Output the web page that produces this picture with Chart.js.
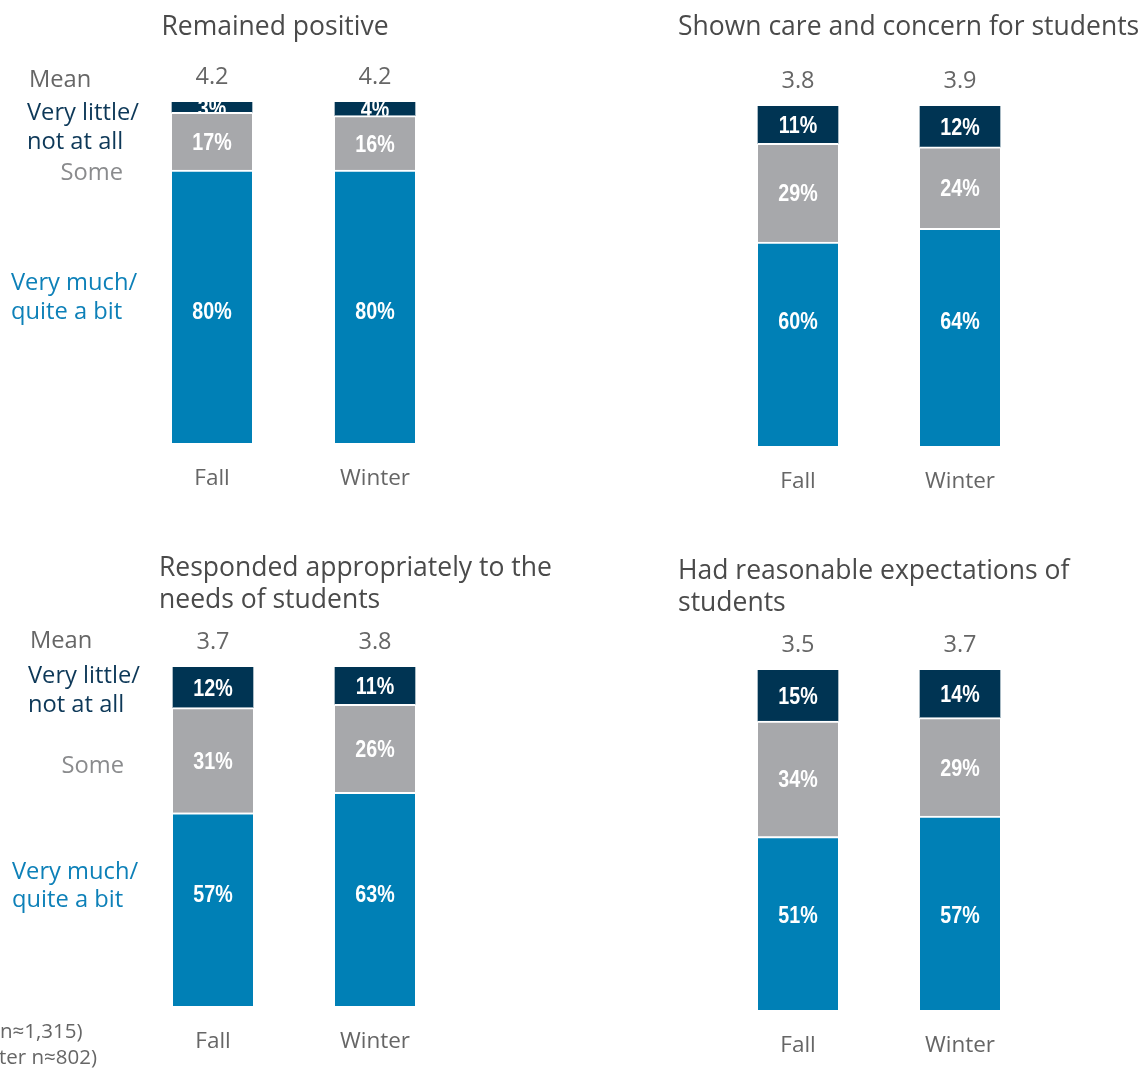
<!DOCTYPE html>
<html>
<head>
<meta charset="utf-8">
<script src="https://cdn.jsdelivr.net/npm/chart.js@4.4.1/dist/chart.umd.min.js"></script>
<style>
    body { margin: 0; width: 1143px; height: 1069px; position: relative; overflow: hidden; background: #fff; font-family: "Open Sans", sans-serif; }
    canvas { position: absolute; }
    .t { position: absolute; white-space: nowrap; line-height: 1.36; transform: translateY(-50%); }
    .title { font-size: 26.5px; color: #4a4a4a; }
    .side { font-size: 23.7px; }
</style>
</head>
<body>
<canvas id="positive_chart" width="571" height="500" style="left:0;top:0"></canvas>
<canvas id="care_chart" width="572" height="500" style="left:571px;top:0"></canvas>
<canvas id="responded_chart" width="571" height="539" style="left:0;top:530px"></canvas>
<canvas id="expectations_chart" width="572" height="539" style="left:571px;top:530px"></canvas>

<div class="t title" style="left:275px;top:25px;transform:translate(-50%,-50%)">Remained positive</div>
<div class="t title" style="left:678px;top:25px">Shown care and concern for students</div>
<div class="t title" style="left:159px;top:566px">Responded appropriately to the</div>
<div class="t title" style="left:159px;top:598px">needs of students</div>
<div class="t title" style="left:678px;top:569px">Had reasonable expectations of</div>
<div class="t title" style="left:678px;top:601px">students</div>

<div class="t side" style="left:29px;top:78px;color:#666">Mean</div>
<div class="t side" style="left:27px;top:111px;color:#0d3858">Very little/</div>
<div class="t side" style="left:27px;top:140px;color:#0d3858">not at all</div>
<div class="t side" style="right:1020px;top:171px;color:#8a8b8d">Some</div>
<div class="t side" style="left:11px;top:281px;color:#0d80b8">Very much/</div>
<div class="t side" style="left:11px;top:310px;color:#0d80b8">quite a bit</div>

<div class="t side" style="left:30px;top:639px;color:#666">Mean</div>
<div class="t side" style="left:28px;top:674px;color:#0d3858">Very little/</div>
<div class="t side" style="left:28px;top:703px;color:#0d3858">not at all</div>
<div class="t side" style="right:1019px;top:764px;color:#8a8b8d">Some</div>
<div class="t side" style="left:12px;top:870px;color:#0d80b8">Very much/</div>
<div class="t side" style="left:12px;top:898px;color:#0d80b8">quite a bit</div>

<div class="t" style="left:0;top:1031px;font-size:20.5px;color:#666">n≈1,315)</div>
<div class="t" style="left:-1px;top:1057px;font-size:20.5px;color:#666">ter n≈802)</div>

<script>
'use strict';

const categories = ['Fall', 'Winter'];

const positive_low = [3, 4];
const positive_some = [17, 16];
const positive_high = [80, 80];
const positive_mean = [4.2, 4.2];

const care_low = [11, 12];
const care_some = [29, 24];
const care_high = [60, 64];
const care_mean = [3.8, 3.9];

const responded_low = [12, 11];
const responded_some = [31, 26];
const responded_high = [57, 63];
const responded_mean = [3.7, 3.8];

const expectations_low = [15, 14];
const expectations_some = [34, 29];
const expectations_high = [51, 57];
const expectations_mean = [3.5, 3.7];

const BLUE = '#0080b6';
const GRAY = '#a7a8ab';
const NAVY = '#003453';

// high_at: y scale value where the labels of the bottom (blue) segment sit
function bar_text_plugin(means, high_at) {
    return {
        id: 'barText',
        afterDatasetsDraw(chart) {
            const ctx = chart.ctx;
            const y_scale = chart.scales.y;
            ctx.save();
            ctx.textAlign = 'center';
            ctx.textBaseline = 'middle';
            // percent labels inside each segment, clipped to the segment
            ctx.fillStyle = '#fff';
            ctx.font = 'bold 24px "Liberation Sans", Arial, sans-serif';
            chart.data.datasets.forEach((ds, di) => {
                chart.getDatasetMeta(di).data.forEach((bar, i) => {
                    const top = Math.min(bar.y, bar.base);
                    const bottom = Math.max(bar.y, bar.base);
                    const y = (di == 0 ? y_scale.getPixelForValue(high_at) : (top + bottom) / 2) + 2;
                    ctx.save();
                    ctx.beginPath();
                    ctx.rect(bar.x - bar.width / 2, top, bar.width, bottom - top);
                    ctx.clip();
                    ctx.translate(bar.x, y);
                    ctx.scale(0.82, 1);  // narrow look
                    ctx.fillText(ds.data[i] + '%', 0, 0);
                    ctx.restore();
                });
            });
            // mean values above the bars
            ctx.fillStyle = '#666';
            ctx.font = '23.5px "Open Sans", sans-serif';
            const x_scale = chart.scales.x;
            means.forEach((m, i) => {
                ctx.fillText(m.toFixed(1), x_scale.getPixelForValue(i), chart.chartArea.top - 25);
            });
            ctx.restore();
        }
    };
}

function make_chart(id, high, some, low, means, high_at, pad) {
    const ctx = document.getElementById(id).getContext('2d');
    const seg_border = { top: 2, right: 0, bottom: 0, left: 0 };
    return new Chart(ctx, {
        type: 'bar',
        data: {
            labels: categories,
            datasets: [{
                label: 'Very much/quite a bit',
                data: high,
                backgroundColor: BLUE,
                borderColor: '#fff',
                borderWidth: seg_border,
                borderSkipped: false,
                barThickness: 80,
            }, {
                label: 'Some',
                data: some,
                backgroundColor: GRAY,
                borderColor: '#fff',
                borderWidth: seg_border,
                borderSkipped: false,
                barThickness: 80,
            }, {
                label: 'Very little/not at all',
                data: low,
                backgroundColor: NAVY,
                borderWidth: 0,
                barThickness: 80,
            }]
        },
        options: {
            responsive: false,
            animation: false,
            devicePixelRatio: 1,
            layout: { padding: pad },
            plugins: {
                legend: { display: false },
                tooltip: { enabled: false },
            },
            scales: {
                x: {
                    stacked: true,
                    grid: { display: false, drawTicks: false },
                    border: { display: false },
                    ticks: { padding: 22.5, color: '#666', font: { family: 'Open Sans', size: 22.5 } },
                    afterFit: (scale) => { scale.height = 50; },
                },
                y: { stacked: true, display: false, min: 0, max: 100 }
            }
        },
        plugins: [bar_text_plugin(means, high_at)]
    });
}

document.addEventListener('DOMContentLoaded', function(_event) {
    make_chart('positive_chart', positive_high, positive_some, positive_low, positive_mean, 39,
        { left: 130.5, right: 114.5, top: 102, bottom: 7 });
    make_chart('care_chart', care_high, care_some, care_low, care_mean, 37,
        { left: 146, right: 102, top: 106, bottom: 4 });
    make_chart('responded_chart', responded_high, responded_some, responded_low, responded_mean, 33.3,
        { left: 132, right: 115, top: 137, bottom: 13 });
    make_chart('expectations_chart', expectations_high, expectations_some, expectations_low, expectations_mean, 28,
        { left: 146, right: 102, top: 140, bottom: 9 });
});
</script>
</body>
</html>
